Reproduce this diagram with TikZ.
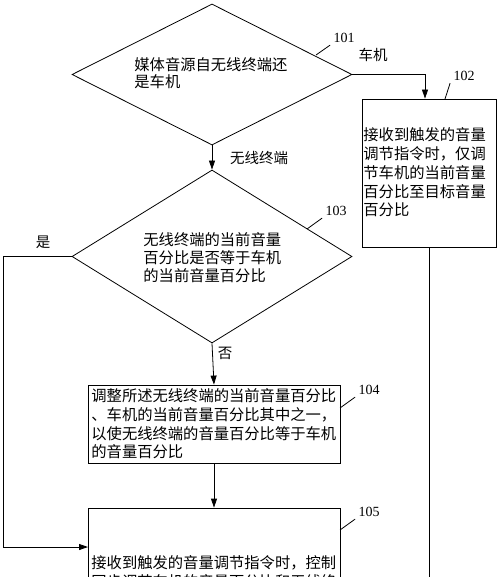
\documentclass[tikz,border=0pt]{standalone}
\usepackage{fontspec}
\setmainfont{Liberation Serif}
\newfontfamily\cjk{Noto Sans CJK SC}
\usetikzlibrary{arrows.meta,shapes.geometric}
\begin{document}
\begin{tikzpicture}[x=1pt,y=-1pt,line width=0.8pt,
  dia/.style={diamond, draw, minimum width=280pt, inner sep=0pt},
  box/.style={rectangle, draw, inner sep=0pt},
  txt/.style={font=\cjk\fontsize{15.3pt}{18.7pt}\selectfont, align=left, inner sep=0pt, anchor=west},
  lab/.style={font=\cjk\fontsize{14.5pt}{17pt}\selectfont, inner sep=0pt},
  num/.style={font=\fontsize{14pt}{16pt}\selectfont, inner sep=0pt},
  arr/.style={-{Triangle[length=9pt,width=6pt]}},
]
\useasboundingbox (0,0) rectangle (500,577);
\clip (0,0) rectangle (500,577);

% shapes
\node[dia, minimum height=141pt] (d1) at (212,74.5) {};
\node[dia, minimum height=173pt] (d3) at (212,256.5) {};
\node[box, minimum width=134pt, minimum height=148pt] (b2) at (429,173) {};
\node[box, minimum width=252pt, minimum height=78pt] (b4) at (214,424) {};
\node[box, minimum width=252pt, minimum height=132pt] (b5) at (214,574) {};
\coordinate (c5) at (88,547);

% texts
\node[txt, font=\cjk\fontsize{15.3pt}{17pt}\selectfont] (t1) at (134,73.5) {媒体音源自无线终端还\\是车机};
\node[txt] (t2) at (363,172.5) {接收到触发的音量\\调节指令时，仅调\\节车机的当前音量\\百分比至目标音量\\百分比};
\node[txt, font=\cjk\fontsize{15.3pt}{18pt}\selectfont] (t3) at (143,258) {无线终端的当前音量\\百分比是否等于车机\\的当前音量百分比};
\node[txt] (t4) at (91,424) {调整所述无线终端的当前音量百分比\\、车机的当前音量百分比其中之一，\\以使无线终端的音量百分比等于车机\\的音量百分比};
\node[txt] (t5) at (91,572.3) {接收到触发的音量调节指令时，控制\\同步调节车机的音量百分比和无线终};

% connectors
\draw[arr] (d1.east) -| ([xshift=-4pt]b2.north);
\draw (b2.south) -- ++(0,400);
\draw[arr] (d1.south) -- (d3.north);
\draw[arr] (d3.south) -- (b4.north);
\draw[arr] (b4.south) -- (b5.north);
\draw[arr] (d3.west) -- ++(-68,0) |- (c5);

% edge labels
\node[lab] (lc) at (373,55) {车机};
\node[lab] (lw) at (259,158) {无线终端};
\node[lab] (ly) at (43,242) {是};
\node[lab] (ln) at (225,353) {否};

% step numbers with leaders
\node[num] (n101) at (344,38) {101};
\node[num] (n102) at (464,76) {102};
\node[num] (n103) at (336,211) {103};
\node[num] (n104) at (369,390) {104};
\node[num] (n105) at (369,512) {105};
\draw (316,55) -- ([xshift=-3pt,yshift=-2pt]n101.south west);
\draw (445,99) -- ([xshift=-3pt,yshift=-2pt]n102.south west);
\draw (307,229) -- ([xshift=-3pt,yshift=-2pt]n103.south west);
\draw (340,408) -- ([xshift=-3pt,yshift=-2pt]n104.south west);
\draw (340,530) -- ([xshift=-3pt,yshift=-2pt]n105.south west);
\end{tikzpicture}
\end{document}
